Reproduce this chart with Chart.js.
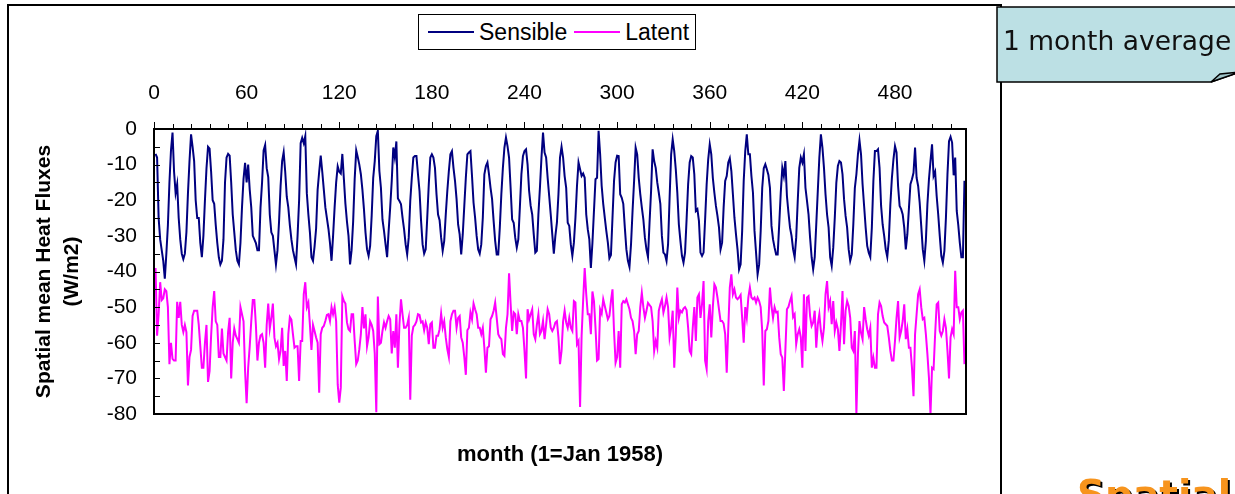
<!DOCTYPE html>
<html>
<head>
<meta charset="utf-8">
<script src="https://cdn.jsdelivr.net/npm/chart.js@4.4.1/dist/chart.umd.min.js"></script>
<style>
  body { margin: 0; width: 1235px; height: 494px; overflow: hidden; background: #fff; position: relative;
         font-family: "Liberation Sans", Arial, sans-serif; }
  #frame { position: absolute; left: 7px; top: 4px; width: 995px; height: 700px; box-sizing: border-box; border: 2px solid #000; }
  #chart { position: absolute; left: 0; top: 0; }
  #legend { position: absolute; left: 418px; top: 14px; height: 36px; box-sizing: border-box; border: 1px solid #000;
            background: #fff; display: flex; align-items: center; padding: 0 6px 0 9px; font-size: 23px; color: #000; }
  #legend .key { display: inline-block; width: 46px; height: 2px; margin: 0 5px 0 0; }
  #legend .key.second { margin-left: 7px; }
  #deco { position: absolute; left: 0; top: 0; }
</style>
</head>
<body>
<div id="frame"></div>
<canvas id="chart" width="1235" height="494"></canvas>
<div id="legend"></div>
<svg id="deco" width="1235" height="494">
  <polygon points="997,7 1240,7 1240,72 1211,82 997,82" fill="#bce0e4" stroke="#000" stroke-width="1.5"/>
  <polygon points="1211,82 1220,74 1240,72" fill="#9ec3c7" stroke="#000" stroke-width="1.5"/>
  <text x="1003" y="50" font-family="DejaVu Sans" font-size="26.5" fill="#111">1 month average</text>
  <text x="1079" y="510" font-family="DejaVu Sans" font-weight="bold" font-size="39" fill="#000">Spatial mean</text>
  <text x="1077" y="508" font-family="DejaVu Sans" font-weight="bold" font-size="39" fill="#f7941d">Spatial mean</text>
</svg>
<script>
// monthly spatial means, one row per year (month 1 = Jan 1958)
const sensible = [
  -7, -8, -25, -31, -34, -37, -42, -35, -27, -15, -6, -1,
  -12, -18, -15.5, -25, -31, -35, -36.5, -35, -29, -18, -9, -1.5,
  -5, -9, -20, -25, -25, -32, -36, -30, -20, -11, -5, -5.5,
  -12, -20, -21, -27, -32, -36, -38, -37, -31, -15, -8, -7,
  -7.5, -15, -24, -29, -34, -37, -38, -32, -22, -14, -9.5, -15,
  -10, -17, -22, -30, -31, -32, -34, -34, -22, -15, -6, -4.5,
  -11, -13.5, -24, -29, -30, -34, -38, -34, -26, -16, -9, -6.5,
  -12, -19, -22, -27, -31, -34, -36, -38, -30, -20, -4, -2.5,
  -4, -2, -18, -24, -29, -36, -37, -33, -28, -17, -12, -7.5,
  -12, -17, -22, -25, -28, -32, -37, -30, -22, -15, -10.5, -12,
  -12.5, -7, -14, -21, -26, -30, -38, -34, -26, -14, -6, -7.9,
  -10, -12.7, -17, -22.5, -29, -33.8, -35.6, -32.8, -24.4, -13.7, -9, -2,
  -0.5, -11.8, -16.5, -25.4, -28.6, -32.4, -36, -28.6, -22, -14.6, -5.2, -8,
  -3.5, -19.5, -20.2, -21.1, -24.9, -28.2, -32.4, -35.2, -30.5, -20.2, -13.7, -8,
  -7.6, -7.6, -12.7, -17.4, -25.8, -32.4, -35, -33.8, -24.9, -15.5, -8, -7.1,
  -8, -10.9, -18.3, -24, -25.6, -30.5, -34.2, -31.4, -24, -17.4, -11.8, -7.1,
  -6.2, -10.9, -14.6, -19.7, -26.8, -29.6, -35.2, -29.6, -21.6, -13.7, -7.1, -6.6,
  -6.2, -13.2, -20.7, -24.9, -30, -33.8, -35, -32.4, -24.9, -12.7, -10.4, -9.4,
  -12.7, -16.5, -19.7, -25.8, -31.4, -35.2, -35.2, -27.7, -18.3, -10.9, -5.2, -2.4,
  -4.8, -8, -16.5, -25.4, -26.3, -30.5, -33.3, -31, -22, -12.7, -7.6, -6.2,
  -5.7, -10, -17.4, -21.6, -24, -29.6, -34.7, -34.2, -24, -16.5, -8, -1,
  -6.6, -8, -13.7, -18.8, -24, -29.6, -35, -30, -26.3, -18.3, -8, -5,
  -8, -13.2, -16.5, -26.3, -27.2, -32.4, -35.6, -31.9, -24.9, -16, -9.4, -11.3,
  -13.2, -12.5, -13.7, -24, -28.2, -31, -39, -32, -23, -14.1, -13.7, -0.5,
  -7.1, -16, -21, -24.9, -28.6, -31.9, -36.3, -35.4, -24.9, -14.6, -9.4, -7.5,
  -7.6, -18.3, -19.3, -21, -27.7, -33.8, -37, -38.7, -32.4, -23, -14.6, -5.2,
  -7.1, -13.7, -18.3, -22, -25.4, -30.5, -33.8, -36, -26.3, -17.4, -5.7, -9,
  -10.9, -15, -17.9, -21, -30, -34.7, -35.2, -37, -32.4, -19.3, -7.1, -2.9,
  -6.2, -11.3, -17.9, -26.8, -31.4, -35.6, -37.5, -34.7, -25.4, -15.5, -9.4, -7.6,
  -8, -12.7, -23, -22.5, -25.8, -34.7, -35.6, -34.7, -25.4, -15.5, -8.5, -4.3,
  -7.1, -13.7, -17.9, -21.6, -24.4, -27.7, -33.8, -31.9, -22, -14.6, -13.2, -9.4,
  -8.2, -11.8, -18.3, -24.9, -29.6, -33.8, -39.4, -38, -28.6, -14.6, -6.2, -1.5,
  -7.1, -7.1, -13.2, -17.9, -28.6, -34.7, -40.8, -38, -28.6, -16.5, -11, -9.9,
  -11.3, -12.9, -16.5, -27.2, -31, -33.3, -35.2, -35.2, -26.8, -17.9, -10.9, -13.2,
  -9, -18.8, -23.5, -27.7, -30, -33.8, -36, -30.5, -20.2, -10.9, -8, -9.4,
  -7.1, -16.5, -20.2, -24, -30.5, -36, -39.4, -36, -26.8, -17.4, -8, -1.5,
  -5.2, -10.9, -18.3, -24, -27.7, -36, -38.4, -33.3, -24.9, -15.1, -10.4, -9,
  -9.4, -12.7, -19.7, -24.4, -27.7, -33.8, -37, -35.2, -26.8, -16.5, -12.7, -7.1,
  -3.2, -7.1, -15.5, -21.6, -27.7, -32.8, -34.7, -35.9, -27.7, -14.6, -6.2, -6.2,
  -5.7, -10.9, -21.6, -26.8, -30, -33.8, -35.9, -31.2, -21.1, -13.7, -8.5, -4.8,
  -6.6, -16, -21.6, -22.5, -24, -27.7, -33.8, -29.6, -22.5, -15.5, -14.1, -12.3,
  -5.2, -13.7, -16, -20.7, -27.2, -33.8, -37, -31.4, -21.1, -14.1, -9, -4.3,
  -13.2, -12, -18.8, -24, -30, -35.6, -37.5, -34.2, -24.9, -12.7, -3.4, -2.2,
  -3.8, -13, -8, -23, -27, -32, -36, -36, -14.5
];

const latent = [
  -39, -58, -52, -43, -48, -47.5, -45, -45.5, -50, -66, -60, -64.5,
  -65, -65, -48.5, -53, -48.5, -55, -57, -55, -57, -72, -64, -62,
  -52.5, -51, -51, -51, -55, -61, -67, -67, -60, -55, -71, -68,
  -58, -50, -45.5, -54, -55, -64, -64, -56, -63, -64, -65, -57,
  -53, -70, -60, -56, -58, -59, -60, -50, -52, -54, -68, -77,
  -67, -61, -54, -48, -48, -55, -65, -60, -58, -57.6, -60, -67,
  -55, -49, -56, -53, -49, -58.5, -61, -60, -64.6, -62.3, -55.8, -66.5,
  -62.3, -70.7, -57.6, -52.8, -53.5, -57.6, -61.4, -61, -61, -70.7, -59.5, -59.5,
  -46.4, -43, -50, -48.7, -55, -62, -55, -56.7, -58.5, -60, -74, -57.6,
  -55.8, -55.3, -53.9, -52.2, -52, -53.9, -50, -52, -50, -54, -71.7, -76.8,
  -72.6, -47, -48.3, -49, -54.3, -56.2, -56.7, -52, -52, -59.5, -66, -65,
  -61.8, -57.6, -50, -56, -52, -61, -58.5, -54, -55, -56.7, -63, -79.5,
  -47, -60.4, -60, -56.7, -54.3, -55.8, -54, -52.5, -53.4, -63, -56.7, -61.4,
  -52, -67, -54.8, -47.8, -52, -55.8, -55.8, -55, -53, -76, -58, -55.5,
  -55, -54, -52, -52.2, -54.3, -54, -56.5, -54.3, -55.8, -60.4, -54.8, -54.3,
  -61.4, -61.4, -58, -58, -56.2, -51.8, -55.8, -54, -58.5, -61.8, -64, -54,
  -52, -51, -51, -55.8, -53, -52.5, -58.5, -60, -64, -69, -56.5, -55.8,
  -51.5, -53.4, -49, -50.6, -52, -55.8, -55.8, -57.6, -55.8, -61.4, -68.4, -61.4,
  -61, -53.4, -52.5, -51, -48.7, -53, -57.6, -58.5, -59, -63.2, -63.7, -55.8,
  -52, -40.5, -49, -56.7, -51.5, -52, -57.6, -52, -53.9, -53.9, -55.8, -62.3,
  -70, -50.6, -53.4, -52, -50.6, -57.6, -59, -55, -52, -57.6, -56.7, -53.9,
  -59, -55, -50.6, -52, -55.8, -56.7, -55.8, -54.3, -53.9, -58.5, -66, -62.3,
  -54, -51, -54.3, -55.8, -53, -55.8, -56.7, -48.3, -48.7, -60.4, -59.5, -78,
  -58, -48, -39, -46.4, -52, -52, -57.6, -45.6, -48.3, -55.8, -65, -64.6,
  -50.6, -51.8, -47.8, -49.7, -51.5, -53.4, -52.5, -48.3, -45, -56.7, -65.6, -64,
  -56.7, -67, -49.2, -48.3, -48.7, -47.8, -49.2, -50.6, -53, -53.9, -56.7, -63.2,
  -57.6, -56.7, -50, -46, -50, -53, -51, -48.8, -49.4, -50, -53.9, -62.3,
  -59.5, -61.4, -51, -49.2, -47.8, -51.5, -49.7, -47.3, -50, -58.5, -55.8, -51,
  -67, -58, -44.5, -53, -51, -51.5, -50.4, -50, -50.8, -55.8, -62.3, -63.2,
  -55.8, -50, -59.5, -47.3, -46.4, -53, -49.2, -42.7, -65, -67.4, -53.9, -49.2,
  -58.5, -50, -43.6, -44.5, -47.3, -50.6, -53.9, -53.9, -54.6, -57.6, -68.4, -56,
  -44.5, -40.8, -46.4, -45, -47.3, -47.8, -47.3, -46.6, -53, -60, -50, -53,
  -47.3, -44.5, -47.3, -47.8, -47.3, -48.7, -47.3, -48.3, -50, -56.7, -72, -56.7,
  -56.2, -53.9, -44.5, -49.7, -53, -50, -51.5, -51.3, -58.5, -63.2, -64.2, -73.5,
  -62, -50.6, -49.9, -48.3, -46.9, -52.8, -52, -60.4, -57.6, -56.2, -58.5, -67,
  -46.4, -62.3, -47.3, -46.9, -52.5, -55.3, -54.3, -51, -61.4, -54.8, -52, -56.7,
  -59.5, -55.8, -46.4, -42.7, -50, -48.3, -54.8, -48.3, -56.7, -54.3, -56.2, -62.3,
  -55, -45.5, -60.4, -51, -48.3, -49.7, -53, -61.4, -62.3, -56.7, -80, -63.2,
  -53.9, -57.2, -59, -50, -53.4, -56.2, -58, -55.8, -67, -64.2, -67, -67,
  -52, -48.7, -49.7, -52.5, -54.3, -54.8, -55.3, -58.5, -62.3, -65, -65, -59.5,
  -53, -48.3, -58.5, -56.7, -53.9, -49.2, -59, -56.2, -61.4, -61.4, -67, -75,
  -57.6, -52, -46.4, -45, -50, -53.4, -53, -57.6, -63.2, -69.8, -80, -67,
  -67.4, -57.6, -49.2, -48.7, -56.7, -58, -56.7, -53.4, -55.8, -62.3, -70, -58.5,
  -56.2, -57.6, -39.8, -50, -50, -53.4, -51.5, -51, -66
];

const seriesNames = ["Sensible", "Latent"];
const seriesColors = ["#000080", "#ff00ff"];
const xTickStep = 60;
const yTickStep = 10;

const months = sensible.map((_, i) => i + 1);

// legend box
const legend = document.getElementById("legend");
seriesNames.forEach((name, i) => {
  const key = document.createElement("span");
  key.className = i ? "key second" : "key";
  key.style.background = seriesColors[i];
  legend.appendChild(key);
  legend.appendChild(document.createTextNode(name));
});

// plot frame and small tick marks
const frame = {
  id: "frame",
  afterDraw(chart) {
    const { ctx, chartArea: a } = chart;
    const x = chart.scales.x, y = chart.scales.y;
    ctx.save();
    ctx.strokeStyle = "#000";
    ctx.lineWidth = 1;
    ctx.beginPath();
    for (let m = 0; m <= x.max; m += 12) {
      const px = Math.round(x.getPixelForValue(m)) + 0.5;
      const len = m % xTickStep === 0 ? 7 : 5;
      ctx.moveTo(px, a.top);
      ctx.lineTo(px, a.top - len);
    }
    for (let v = y.min; v <= y.max; v += 5) {
      const py = Math.round(y.getPixelForValue(v)) + 0.5;
      ctx.moveTo(a.left, py);
      ctx.lineTo(a.left + 6, py);
    }
    ctx.stroke();
    ctx.lineWidth = 2;
    ctx.strokeRect(a.left, a.top, a.right - a.left, a.bottom - a.top);
    ctx.restore();
  }
};

Chart.defaults.font.family = '"Liberation Sans", Arial, sans-serif';
Chart.defaults.color = "#000";

new Chart(document.getElementById("chart"), {
  type: "line",
  data: {
    labels: months,
    datasets: [
      { label: seriesNames[0], data: sensible, borderColor: seriesColors[0], borderWidth: 2, pointRadius: 0 },
      { label: seriesNames[1], data: latent, borderColor: seriesColors[1], borderWidth: 2, pointRadius: 0 }
    ]
  },
  options: {
    responsive: false,
    animation: false,
    layout: { padding: { left: 0, top: 0, right: 269, bottom: 0 } },
    plugins: { legend: { display: false }, tooltip: { enabled: false } },
    scales: {
      x: {
        type: "linear", position: "top", min: 0, max: 526,
        afterFit: (s) => { s.height = 129; },
        grid: { display: false, drawTicks: false },
        border: { display: false },
        ticks: { stepSize: xTickStep, includeBounds: false, padding: 23, maxRotation: 0, font: { size: 21 } }
      },
      x2: {
        type: "linear", position: "bottom", min: 0, max: 526,
        afterFit: (s) => { s.height = 80; },
        grid: { display: false, drawTicks: false },
        border: { display: false },
        ticks: { display: false },
        title: { display: true, text: "month (1=Jan 1958)", font: { size: 22, weight: "bold" }, padding: { bottom: 26 } }
      },
      y: {
        min: -80, max: 0,
        afterFit: (s) => { s.width = 154; },
        grid: { display: false, drawTicks: false },
        border: { display: false },
        ticks: { stepSize: yTickStep, padding: 17, font: { size: 21 } },
        title: {
          display: true,
          text: ["Spatial mean Heat Fluxes", "(W/m2)"],
          font: { size: 21, weight: "bold", lineHeight: 1.3 },
          padding: { top: 31 }
        }
      }
    }
  },
  plugins: [frame]
});
</script>
</body>
</html>
